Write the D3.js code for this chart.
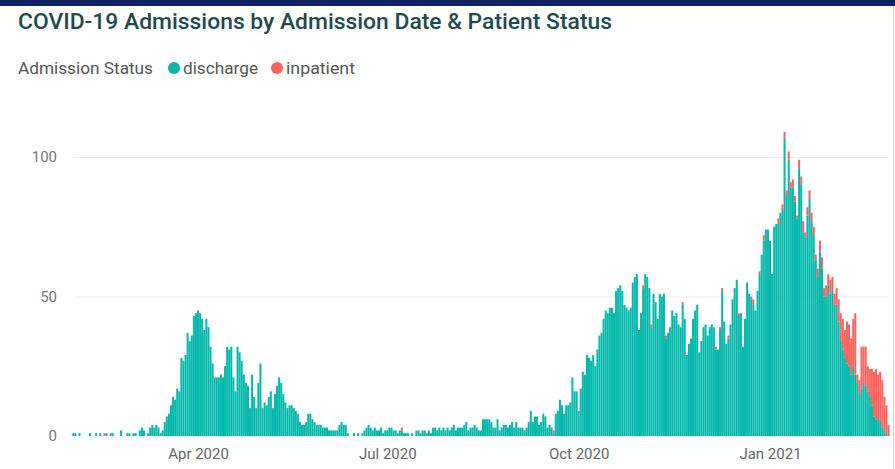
<!DOCTYPE html>
<html>
<head>
<meta charset="utf-8">
<script src="https://cdnjs.cloudflare.com/ajax/libs/d3/7.8.5/d3.min.js"></script>
<style>
body { margin: 0; background: #fff; }
svg { display: block; font-family: Roboto, "Open Sans", sans-serif; }
</style>
</head>
<body>
<div id="chart"></div>
<script>
// daily admissions, first value is 1 Feb 2020
var startDate = Date.UTC(2020, 1, 1);
var discharge = [
	1,1,0,1,0,0,0,0,1,0,  0,1,0,1,0,0,1,0,1,1,  0,0,0,2,0,0,1,1,0,1,
	1,0,2,3,2,0,1,3,4,3,  4,3,1,2,5,7,8,11,14,13,  17,16,28,27,29,37,34,36,43,44,
	45,44,42,38,42,39,32,26,21,21,  21,22,21,25,32,31,32,21,16,32,  30,27,22,19,18,10,22,14,10,19,
	26,10,12,11,14,16,10,15,18,21,  19,15,12,10,11,11,10,9,8,5,  4,4,5,8,8,6,5,4,4,4,
	3,3,3,2,2,2,2,2,4,5,  4,4,1,0,0,1,0,1,0,1,  2,3,4,3,2,3,2,2,3,1,
	2,2,3,3,2,2,1,2,2,1,  1,1,0,1,0,2,2,1,2,2,  1,2,1,3,3,2,3,2,3,2,
	3,2,3,4,2,3,3,3,4,5,  2,3,3,4,3,2,2,6,6,6,  6,5,3,3,6,2,3,4,4,3,
	4,5,3,5,3,3,3,2,3,5,  9,5,7,7,4,5,8,7,3,4,  3,1,8,9,13,11,8,11,11,12,
	21,16,16,9,17,23,22,29,28,27,  29,25,31,36,37,42,45,44,46,46,  44,52,53,54,52,47,46,45,46,55,
	57,58,38,44,53,58,57,53,39,51,  48,42,51,50,51,35,37,39,45,43,  44,40,39,47,42,29,33,35,42,45,
	47,30,34,39,40,36,39,40,39,31,  31,38,52,41,33,35,40,49,53,56,  43,44,32,42,55,51,49,47,45,52,
	58,65,70,74,74,70,58,75,76,76,  80,81,107,86,99,89,89,84,78,96,  90,73,71,79,85,77,72,63,57,66,
	60,50,50,54,51,52,47,47,41,34,  31,28,26,25,22,25,22,19,15,17,  19,18,16,14,11,7,6,6,5,3,
	2,1,0
];
var inpatient = [
	0,0,0,0,0,0,0,0,0,0,  0,0,0,0,0,1,0,0,0,0,  0,0,0,0,0,0,0,0,0,0,
	0,0,0,0,0,0,0,0,0,0,  0,0,0,0,0,0,0,0,0,0,  0,0,0,0,0,0,0,0,0,0,
	0,0,0,0,0,0,0,0,0,0,  0,0,0,0,0,0,0,0,0,0,  0,0,0,0,0,0,0,0,0,0,
	0,0,0,0,0,0,0,0,0,0,  0,0,0,0,0,0,0,0,0,0,  0,0,0,0,0,0,0,0,0,0,
	0,0,0,0,0,0,0,0,0,0,  0,0,0,0,0,0,0,0,0,0,  0,0,0,0,0,0,0,0,0,0,
	0,0,0,0,0,0,0,0,1,0,  0,0,0,0,0,0,0,0,0,0,  0,0,0,0,0,0,0,0,0,0,
	0,0,0,0,0,0,0,0,0,0,  0,0,0,0,0,0,0,0,0,0,  0,0,0,0,0,0,0,0,0,0,
	0,0,0,0,0,0,0,0,0,0,  0,0,0,0,0,0,0,0,0,0,  0,1,0,0,0,0,0,0,0,0,
	0,0,0,0,0,0,0,0,0,0,  0,0,0,0,0,0,0,0,0,0,  0,0,0,0,0,0,0,0,0,0,
	0,0,0,0,1,0,0,0,1,0,  0,0,0,0,0,1,0,0,0,0,  0,0,0,1,0,0,0,0,0,0,
	0,0,0,0,0,0,0,0,0,1,  0,1,1,0,0,1,0,0,0,0,  1,0,0,0,0,0,1,2,0,0,
	1,0,2,0,0,0,0,0,0,2,  0,2,2,2,3,2,3,2,1,3,  3,4,2,3,3,3,3,2,3,4,
	4,3,4,4,5,5,4,6,8,10,  11,10,15,15,13,17,22,3,5,15,  13,14,9,10,13,16,18,16,18,17,
	12,10,4
];
var seriesNames = ["discharge", "inpatient"];
var seriesColors = ["#01B8AA", "#FD625E"];
var yTicks = [0, 50, 100];

var width = 895, height = 469;
var svg = d3.select("#chart").append("svg").attr("width", width).attr("height", height);

var rows = discharge.map(function(d, i) {
	return {date: d3.utcDay.offset(new Date(startDate), i), discharge: d, inpatient: inpatient[i]};
});

var x = d3.scaleUtc()
	.domain([d3.utcHour.offset(rows[0].date, -12), d3.utcHour.offset(rows[rows.length - 1].date, 12)])
	.range([72.2, 889.6]);
var y = d3.scaleLinear().domain([0, 110]).range([436, 129.1]);
var color = d3.scaleOrdinal().domain(seriesNames).range(seriesColors);
var layers = d3.stack().keys(seriesNames)(rows);
var barW = 2;

// frame bits of the report page
svg.append("rect").attr("x", 0).attr("y", 0).attr("width", width).attr("height", 6).attr("fill", "#0f2163");
svg.append("line").attr("x1", 893.5).attr("x2", 893.5).attr("y1", 6).attr("y2", height).attr("stroke", "#d0d0d0");

svg.append("text").attr("x", 18).attr("y", 29).text("COVID-19 Admissions by Admission Date & Patient Status")
	.attr("font-size", 22).attr("font-weight", 500).attr("fill", "#1f4a50")
	.attr("textLength", 594).attr("lengthAdjust", "spacingAndGlyphs");

// legend
var legend = svg.append("g").attr("font-size", 16).attr("fill", "#555");
legend.append("text").attr("x", 18).attr("y", 74).text("Admission Status")
	.attr("textLength", 135).attr("lengthAdjust", "spacingAndGlyphs");
var items = legend.selectAll("g.item").data(seriesNames).enter().append("g").attr("class", "item")
	.attr("transform", function(d, i) { return "translate(" + [174, 277][i] + ",68)"; });
items.append("circle").attr("r", 6).attr("fill", function(d) { return color(d); });
items.append("text").attr("x", 9).attr("y", 6).text(function(d) { return d; })
	.attr("textLength", function(d, i) { return [75, 69][i]; }).attr("lengthAdjust", "spacingAndGlyphs");

// y grid + labels
var yAxis = svg.append("g");
yAxis.selectAll("line").data(yTicks.filter(function(t) { return t > 0; })).enter().append("line")
	.attr("x1", 73).attr("x2", 888).attr("y1", function(d) { return y(d) + 0.5; }).attr("y2", function(d) { return y(d) + 0.5; })
	.attr("stroke", "#ececec").attr("stroke-width", 1);
yAxis.selectAll("text").data(yTicks).enter().append("text")
	.attr("x", 57).attr("y", function(d) { return y(d); }).attr("dy", "0.35em").attr("text-anchor", "end")
	.attr("font-size", 15).attr("fill", "#777").text(function(d) { return d; });

// bars
svg.append("g").selectAll("g").data(layers).enter().append("g")
	.attr("fill", function(d) { return color(d.key); })
	.selectAll("rect").data(function(d) { return d; }).enter().append("rect")
	.attr("x", function(d) { return x(d.data.date) - barW / 2; })
	.attr("width", barW)
	.attr("y", function(d) { return y(d[1]); })
	.attr("height", function(d) { return y(d[0]) - y(d[1]); });

// x axis labels, quarterly
var xAxis = svg.append("g").attr("transform", "translate(0,448)")
	.call(d3.axisBottom(x).ticks(d3.utcMonth.every(3)).tickFormat(d3.utcFormat("%b %Y")).tickSize(0).tickPadding(0));
xAxis.select(".domain").remove();
xAxis.selectAll("text").attr("font-size", 15).attr("fill", "#666").attr("font-family", "Roboto, 'Open Sans', sans-serif");
</script>
</body>
</html>
